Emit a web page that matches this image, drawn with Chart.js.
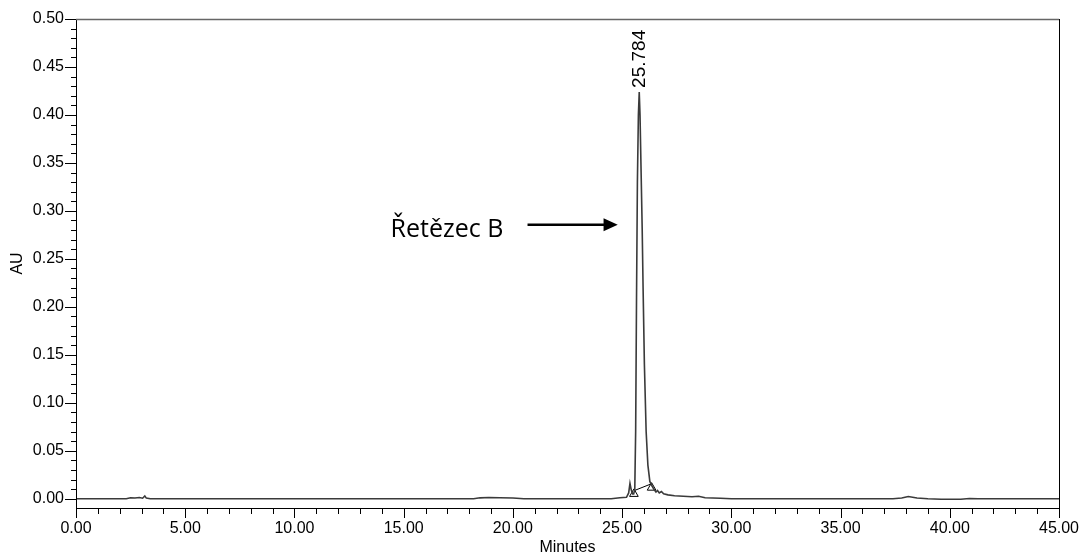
<!DOCTYPE html>
<html>
<head>
<meta charset="utf-8">
<script src="https://cdn.jsdelivr.net/npm/chart.js@4.4.1/dist/chart.umd.min.js"></script>
<style>
  html, body { margin: 0; padding: 0; background: #fff; }
  #wrap { width: 1081px; height: 555px; }
</style>
</head>
<body>
<div id="wrap"><canvas id="chrom"></canvas></div>
<script>
// chromatogram trace (minutes / AU)
var minutes = [0, 2.3, 2.5, 2.7, 2.9, 3.05, 3.15, 3.22, 3.4, 18.2, 18.5, 18.9, 19.4, 20.0, 20.5,
  24.5, 24.9, 25.2, 25.3, 25.36, 25.42, 25.48, 25.53, 25.58, 25.62, 25.66, 25.70, 25.745, 25.784,
  25.82, 25.87, 25.92, 25.96, 26.02, 26.10, 26.18, 26.27, 26.35, 26.45, 26.55, 26.62, 26.70, 26.80,
  26.90, 27.10, 27.40, 27.80, 28.20, 28.50, 28.80, 29.50, 30.0, 37.4, 37.8, 38.1, 38.5, 39.0, 39.6,
  40.5, 40.9, 41.3, 45.0];
var au = [0, 0, 0.001, 0.0008, 0.0012, 0.0005, 0.0028, 0.0006, 0, 0, 0.0009, 0.0012, 0.001, 0.0007, 0,
  0, 0.001, 0.0015, 0.006, 0.016, 0.009, 0.005, 0.005, 0.01, 0.07, 0.21, 0.33, 0.40, 0.424,
  0.40, 0.34, 0.28, 0.22, 0.14, 0.07, 0.035, 0.018, 0.014, 0.01, 0.007, 0.0085, 0.006, 0.0075,
  0.005, 0.004, 0.003, 0.0025, 0.002, 0.0025, 0.001, 0.0005, 0, 0, 0.0008, 0.0022, 0.0008, 0, -0.0006,
  -0.0006, 0.0002, 0, 0];

// integration baseline and peak start / end markers
var baseX = [25.54, 26.35];
var baseY = [0.0083, 0.0156];
var markY = [0.005, 0.0115];

var peakTime = 25.784;
var peakHeight = 0.424;
var peakName = "Řetězec B";

var xTicks = [0, 5, 10, 15, 20, 25, 30, 35, 40, 45];
var yTicks = [0, 0.05, 0.10, 0.15, 0.20, 0.25, 0.30, 0.35, 0.40, 0.45, 0.50];

function pts(xs, ys) {
  return xs.map(function (x, i) { return { x: x, y: ys[i] }; });
}

var decor = {
  id: 'decor',
  afterDraw: function (chart) {
    var c = chart.ctx, xs = chart.scales.x, ys = chart.scales.y, a = chart.chartArea;
    c.save();
    // frame
    c.strokeStyle = '#000';
    c.lineWidth = 1;
    c.beginPath();
    c.moveTo(a.left + 0.5, a.top); c.lineTo(a.left + 0.5, a.bottom + 0.5);
    c.lineTo(a.right + 0.5, a.bottom + 0.5); c.lineTo(a.right + 0.5, a.top);
    c.stroke();
    c.strokeStyle = '#666';
    c.lineWidth = 1.5;
    c.beginPath(); c.moveTo(a.left, a.top + 0.5); c.lineTo(a.right, a.top + 0.5); c.stroke();

    // tick marks
    c.strokeStyle = '#000';
    c.lineWidth = 1;
    c.beginPath();
    for (var m = 0; m <= 45; m++) {
      var px = Math.round(xs.getPixelForValue(m)) + 0.5;
      c.moveTo(px, a.bottom); c.lineTo(px, a.bottom + (m % 5 === 0 ? 10 : 6));
    }
    for (var k = 0; k <= 50; k++) {
      var py = Math.round(ys.getPixelForValue(k / 100)) + 0.5;
      c.moveTo(a.left, py); c.lineTo(a.left - (k % 5 === 0 ? 11 : 5), py);
    }
    c.stroke();

    // axis titles
    c.fillStyle = '#000';
    c.font = '16px "Liberation Sans", Arial, sans-serif';
    c.textAlign = 'center';
    c.textBaseline = 'middle';
    c.fillText('Minutes', (a.left + a.right) / 2, 548);
    c.save();
    c.translate(18, (a.top + a.bottom) / 2);
    c.rotate(-Math.PI / 2);
    c.fillText('AU', 0, 0);
    c.restore();

    // peak retention time label
    c.save();
    c.translate(xs.getPixelForValue(peakTime) + 1, ys.getPixelForValue(peakHeight) - 4);
    c.rotate(-Math.PI / 2);
    c.font = '19px "Liberation Sans", Arial, sans-serif';
    c.textAlign = 'left';
    c.fillText(peakTime.toFixed(3), 0, 0);
    c.restore();

    // annotation text + arrow
    c.font = '25px "Open Sans", sans-serif';
    c.textAlign = 'left';
    c.textBaseline = 'alphabetic';
    c.fillText(peakName, xs.getPixelForValue(14.4), ys.getPixelForValue(0.273));
    var ay = ys.getPixelForValue(0.2855);
    var x0 = xs.getPixelForValue(20.67), x1 = xs.getPixelForValue(24.15), x2 = xs.getPixelForValue(24.8);
    c.lineWidth = 2.5;
    c.beginPath(); c.moveTo(x0, ay); c.lineTo(x1 + 1, ay); c.stroke();
    c.beginPath(); c.moveTo(x1, ay - 6.5); c.lineTo(x2, ay); c.lineTo(x1, ay + 6.5); c.closePath(); c.fill();
    c.restore();
  }
};

new Chart(document.getElementById('chrom'), {
  type: 'line',
  data: {
    datasets: [
      {
        data: pts(minutes, au),
        borderColor: '#3a3a3a',
        borderWidth: 1.6,
        pointRadius: 0,
        tension: 0
      },
      {
        data: pts(baseX, baseY),
        borderColor: '#000',
        borderWidth: 1,
        pointRadius: 0
      },
      {
        data: pts(baseX, markY),
        showLine: false,
        pointStyle: 'triangle',
        pointRadius: 5,
        borderColor: '#000',
        borderWidth: 1,
        backgroundColor: 'rgba(255,255,255,0)'
      }
    ]
  },
  options: {
    responsive: true,
    maintainAspectRatio: false,
    animation: false,
    events: [],
    layout: { padding: { top: 19, right: 22, left: 0, bottom: 0 } },
    plugins: { legend: { display: false }, tooltip: { enabled: false } },
    scales: {
      x: {
        type: 'linear',
        min: 0,
        max: 45,
        border: { display: false },
        grid: { display: false, drawTicks: false },
        afterBuildTicks: function (s) { s.ticks = xTicks.map(function (v) { return { value: v }; }); },
        afterFit: function (s) { s.height = 47; s.paddingLeft = 0; s.paddingRight = 0; },
        ticks: {
          padding: 11,
          maxRotation: 0,
          color: '#000',
          font: { family: '"Liberation Sans", Arial, sans-serif', size: 16 },
          callback: function (v) { return Number(v).toFixed(2); }
        }
      },
      y: {
        type: 'linear',
        min: -0.0097,
        max: 0.5,
        border: { display: false },
        grid: { display: false, drawTicks: false },
        afterBuildTicks: function (s) { s.ticks = yTicks.map(function (v) { return { value: v }; }); },
        afterFit: function (s) { s.width = 76; s.paddingTop = 0; s.paddingBottom = 0; },
        ticks: {
          padding: 12,
          color: '#000',
          font: { family: '"Liberation Sans", Arial, sans-serif', size: 16 },
          callback: function (v) { return Number(v).toFixed(2); }
        }
      }
    }
  },
  plugins: [decor]
});
</script>
</body>
</html>
